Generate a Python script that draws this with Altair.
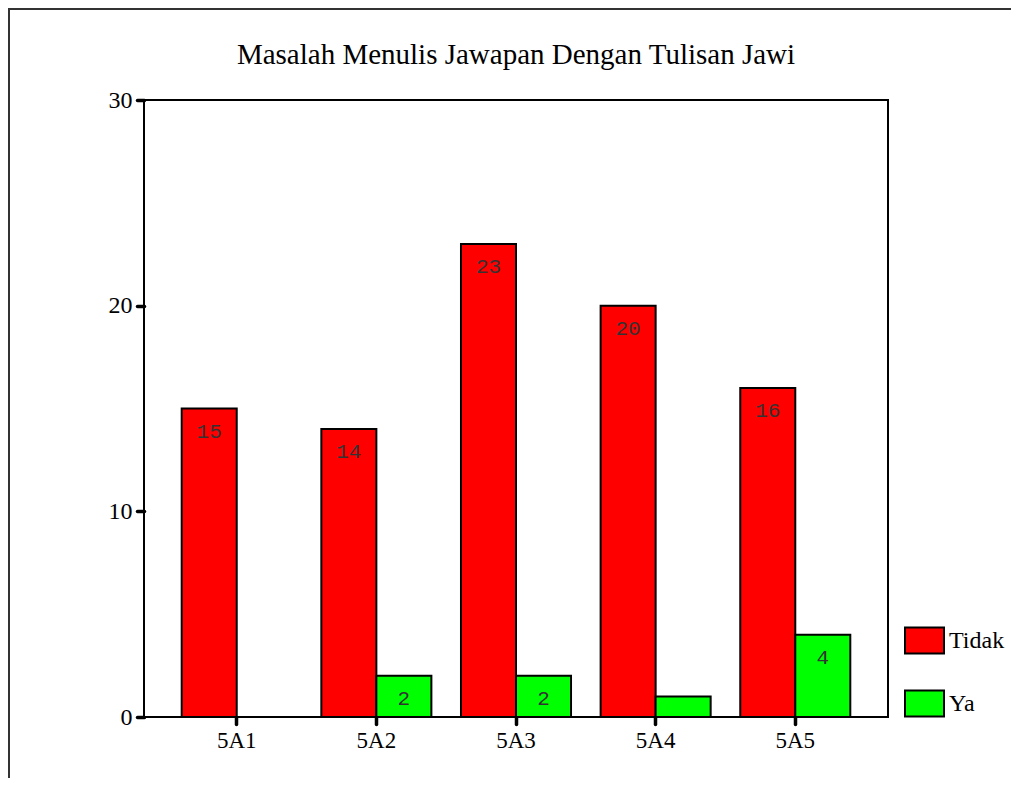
import altair as alt
import pandas as pd

categories = ["5A1", "5A2", "5A3", "5A4", "5A5"]
tidak = [15, 14, 23, 20, 16]
ya = [0, 2, 2, 1, 4]
series = ["Tidak", "Ya"]
colors = ["#ff0000", "#00ff00"]
y_ticks = [0, 10, 20, 30]
title_text = "Masalah Menulis Jawapan Dengan Tulisan Jawi"

rows = []
for c, t, y in zip(categories, tidak, ya):
    rows.append({"kelas": c, "jawapan": "Tidak", "n": t})
    rows.append({"kelas": c, "jawapan": "Ya", "n": y})
df = pd.DataFrame(rows)

W, H = 744, 617
PL, PT, PR, PB = 136, 92, 123, 61
SERIF = "Times New Roman, Liberation Serif, serif"
MONO = "Courier New, Liberation Mono, monospace"

x_enc = alt.X("kelas:N", sort=categories,
              scale=alt.Scale(paddingInner=0.212, paddingOuter=0.27),
              axis=alt.Axis(title=None, labelAngle=0, domain=False,
                            tickSize=7, tickWidth=3.5, tickColor="black", tickCap="round",
                            labelFont=SERIF, labelFontSize=23,
                            labelColor="black", labelPadding=5))
xo_enc = alt.XOffset("jawapan:N", scale=alt.Scale(domain=series, paddingInner=0, paddingOuter=0))
y_enc = alt.Y("n:Q", scale=alt.Scale(domain=[0, 30], nice=False),
              axis=alt.Axis(title=None, values=y_ticks, grid=False, domain=False,
                            tickSize=7, tickWidth=3.5, tickColor="black", tickCap="round",
                            labelFont=SERIF, labelFontSize=24,
                            labelColor="black", labelPadding=5))

bars = alt.Chart(df).transform_filter("datum.n > 0").mark_bar(
    stroke="black", strokeWidth=2, opacity=1
).encode(
    x=x_enc, xOffset=xo_enc, y=y_enc,
    color=alt.Color("jawapan:N", scale=alt.Scale(domain=series, range=colors),
                    legend=alt.Legend(title=None, orient="none", legendX=760, legendY=520,
                                      symbolType="M-1,-0.667H1V0.667H-1Z", symbolSize=1521,
                                      symbolStrokeColor="black", symbolStrokeWidth=2,
                                      symbolOpacity=1,
                                      labelFont=SERIF, labelFontSize=24,
                                      labelColor="black", labelOffset=4,
                                      rowPadding=25, padding=0))
)

labels = alt.Chart(df).transform_filter("datum.n > 1").mark_text(
    font=MONO, fontSize=21, color="#333", dy=23, baseline="middle"
).encode(x=x_enc, xOffset=xo_enc, y=y_enc, text="n:Q")

frame_df = pd.DataFrame({"k": [0]})
top_line = alt.Chart(frame_df).mark_rule(color="#333", strokeWidth=2).encode(
    x=alt.value(-PL), x2=alt.value(W + PR), y=alt.value(-PT + 1))
left_line = alt.Chart(frame_df).mark_rule(color="#333", strokeWidth=2).encode(
    x=alt.value(-PL + 1), y=alt.value(-PT), y2=alt.value(H + PB))

chart = alt.layer(bars, labels, top_line, left_line).properties(
    width=W, height=H,
    title=alt.TitleParams(title_text, font=SERIF, fontSize=29,
                          fontWeight="normal", color="black", anchor="middle",
                          frame="group", baseline="alphabetic", offset=-86),
    autosize=alt.AutoSizeParams(type="none"),
    padding={"left": PL, "top": PT, "right": PR, "bottom": PB},
).configure_view(stroke="black", strokeWidth=2).configure_axis(ticks=True)

chart.save("out.html", embed_options={"renderer": "svg", "actions": False})
